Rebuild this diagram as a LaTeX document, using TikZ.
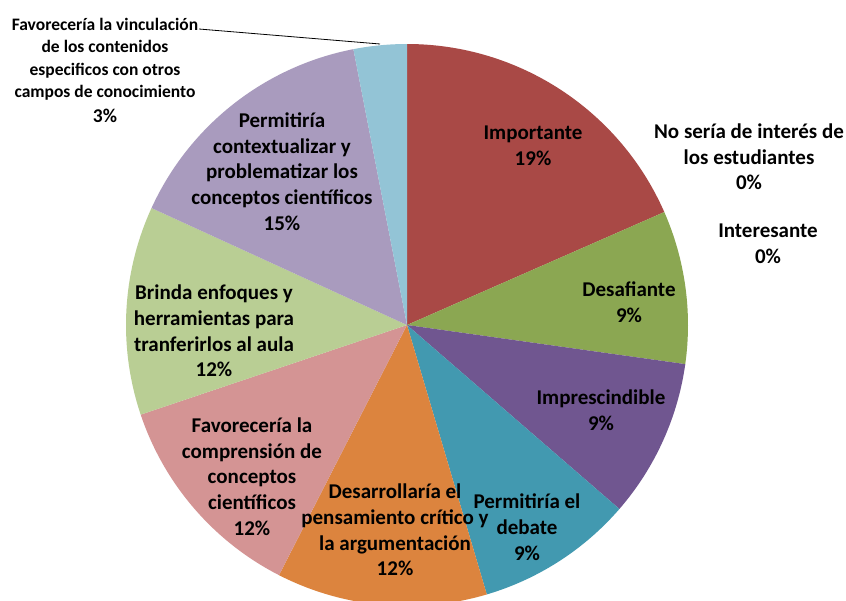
\documentclass[tikz,border=0pt]{standalone}
\usepackage{fontspec}
\setmainfont{Carlito}
\definecolor{cImp}{RGB}{169,73,70}
\definecolor{cDes}{RGB}{139,167,82}
\definecolor{cPre}{RGB}{112,86,144}
\definecolor{cDeb}{RGB}{66,153,176}
\definecolor{cArg}{RGB}{220,132,62}
\definecolor{cCom}{RGB}{212,148,148}
\definecolor{cBri}{RGB}{185,206,148}
\definecolor{cCon}{RGB}{169,155,190}
\definecolor{cVin}{RGB}{147,196,214}
\tikzset{
  lbl/.style={align=center,font=\bfseries\fontsize{21}{25.7}\selectfont,inner sep=0pt},
  slbl/.style={align=center,font=\bfseries\fontsize{17.5}{22.5}\selectfont,inner sep=0pt},
  leader/.style={draw=black,line width=0.8pt}
}
\newcommand{\pieslice}[3]{\fill[#1] (C) -- ++({-(#2)}:281) arc[start angle={-(#2)}, end angle={-(#3)}, radius=281] -- cycle;}
\begin{document}
\begin{tikzpicture}[x=1pt,y=-1pt]
\useasboundingbox (0,0) rectangle (846,600);
\fill[white] (0,0) rectangle (846,600);
\coordinate (C) at (407,325);
\pieslice{cImp}{90}{23.7}
\pieslice{cDes}{23.7}{-8}
\pieslice{cPre}{-8}{-40.9}
\pieslice{cDeb}{-40.9}{-73.5}
\pieslice{cArg}{-73.5}{-117.1}
\pieslice{cCom}{-117.1}{-161.4}
\pieslice{cBri}{-161.4}{-204.6}
\pieslice{cCon}{-204.6}{-259}
\pieslice{cVin}{-259}{-270}
\node[lbl] (imp) at (533,145.5) {Importante\\19\%};
\node[lbl] (des) at (629,302.5) {Desafiante\\9\%};
\node[lbl] (pre) at (601,410) {Imprescindible\\9\%};
\node[lbl] (deb) at (527,527) {Permitiría el\\debate\\9\%};
\node[lbl] (arg) at (395,530) {Desarrollaría el\\pensamiento crítico y\\la argumentación\\12\%};
\node[lbl] (com) at (252,476.5) {Favorecería la\\comprensión de\\conceptos\\científicos\\12\%};
\node[lbl] (bri) at (214,331) {Brinda enfoques y\\herramientas para\\tranferirlos al aula\\12\%};
\node[lbl] (con) at (282,171.5) {Permitiría\\contextualizar y\\problematizar los\\conceptos científicos\\15\%};
\node[lbl] (nos) at (749,157) {No sería de interés de\\los estudiantes\\0\%};
\node[lbl] (int) at (768,243.5) {Interesante\\0\%};
\node[slbl] (vin) at (105,70) {Favorecería la vinculación\\de los contenidos\\especificos con otros\\campos de conocimiento\\[2pt]{\fontsize{19.5}{20}\selectfont 3\%}};
\coordinate (vinA) at (199,29);
\coordinate (vinB) at (380,44);
\draw[leader] (vinA) -- (vinB);
\end{tikzpicture}
\end{document}
